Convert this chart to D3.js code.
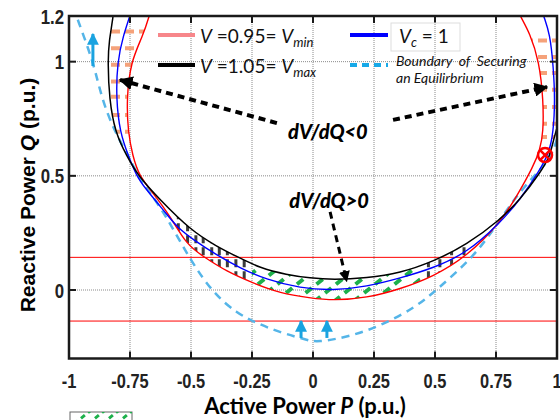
<!DOCTYPE html>
<html><head><meta charset="utf-8">
<script src="https://cdn.jsdelivr.net/npm/d3@7"></script>
<style>body{margin:0;background:#fff}svg{display:block}</style>
</head><body>
<svg id="c" width="560" height="420"></svg>
<script>
// ---------- data (P, Q in p.u.) ----------
const xTicks = [-1, -0.75, -0.5, -0.25, 0, 0.25, 0.5, 0.75, 1];
const xTickLabels = ["-1", "-0.75", "-0.5", "-0.25", "0", "0.25", "0.5", "0.75", "1"];
const yTicks = [0, 0.5, 1, 1.2];
const yTickLabels = ["0", "0.5", "1", "1.2"];
const xGrid = [-0.75, -0.5, -0.25, 0, 0.25, 0.5, 0.75];
const yGrid = [0, 0.5, 1];

// V = 1.05 = Vmax (black)
const vMaxCurve = [[-0.815,1.26],[-0.818,1.200],[-0.836,1.09],[-0.841,1.001],[-0.835,0.836],[-0.811,0.690],[-0.764,0.588],[-0.717,0.500],[-0.627,0.395],[-0.504,0.264],[-0.395,0.191],[-0.313,0.147],[-0.217,0.096],[-0.108,0.067],[-0.012,0.052],[0.083,0.045],[0.220,0.052],[0.357,0.074],[0.493,0.125],[0.630,0.198],[0.766,0.307],[0.848,0.395],[0.930,0.512],[0.971,0.585],[0.985,0.658],[1.02,0.78],[1.04,0.95],[1.04,1.26]];
// Vc = 1 (blue)
const vcCurve = [[-0.735,1.26],[-0.750,1.200],[-0.778,1.113],[-0.802,1.001],[-0.807,0.836],[-0.791,0.690],[-0.757,0.588],[-0.723,0.500],[-0.693,0.452],[-0.594,0.325],[-0.559,0.278],[-0.491,0.220],[-0.395,0.154],[-0.299,0.096],[-0.190,0.045],[-0.053,0.008],[0.083,-0.002],[0.220,0.015],[0.357,0.052],[0.493,0.096],[0.630,0.162],[0.766,0.293],[0.848,0.395],[0.930,0.526],[0.967,0.600],[0.985,0.689],[0.992,0.833],[0.985,0.979],[0.971,1.125],[0.944,1.201],[0.93,1.26]];
// V = 0.95 = Vmin (red)
const vMinCurve = [[-0.655,1.26],[-0.671,1.200],[-0.697,1.113],[-0.747,1.001],[-0.764,0.836],[-0.758,0.690],[-0.739,0.588],[-0.713,0.500],[-0.655,0.424],[-0.586,0.325],[-0.518,0.198],[-0.450,0.147],[-0.354,0.081],[-0.245,0.030],[-0.135,-0.014],[-0.012,-0.035],[0.083,-0.046],[0.220,-0.035],[0.357,0.004],[0.493,0.059],[0.630,0.147],[0.766,0.293],[0.835,0.410],[0.903,0.541],[0.930,0.614],[0.944,0.689],[0.944,0.833],[0.927,1.001],[0.889,1.125],[0.848,1.201],[0.825,1.26]];
// Boundary of securing an equilibrium (light blue dashed)
const boundaryCurve = [[-1.0,1.30],[-0.971,1.200],[-0.900,1.001],[-0.866,0.836],[-0.811,0.690],[-0.757,0.588],[-0.717,0.500],[-0.685,0.453],[-0.600,0.322],[-0.504,0.132],[-0.409,-0.014],[-0.313,-0.101],[-0.231,-0.145],[-0.135,-0.186],[-0.026,-0.218],[0.015,-0.230],[0.152,-0.204],[0.288,-0.152],[0.425,-0.072],[0.507,0.001],[0.630,0.118],[0.712,0.220],[0.821,0.395],[0.903,0.497],[0.971,0.570],[0.992,0.636],[1.03,0.75]];

const qLimits = [0.143, -0.136];
const leftHatchQ = [1.132, 1.059, 0.986, 0.913, 0.846, 0.766, 0.693];
const rightHatchQ = [1.093, 1.020, 0.950, 0.877, 0.801, 0.728, 0.670];
const lowHatchP = [-0.552, -0.514, -0.480, -0.450, -0.415, -0.384, -0.351, -0.316, -0.282, 0.473, 0.520, 0.568, 0.619];
const greenHatchP = [-0.44, -0.36, -0.28, -0.20, -0.12, -0.04, 0.04, 0.12, 0.20, 0.28, 0.36];

// ---------- drawing ----------
const svg = d3.select("#c");
const x = d3.scaleLinear().domain([-1, 1]).range([69, 557]);
const y = d3.scaleLinear().domain([-0.3, 1.2]).range([358.5, 16]);
const line = d3.line().x(d => x(d[0])).y(d => y(d[1])).curve(d3.curveBasis);

const defs = svg.append("defs");
defs.append("clipPath").attr("id", "plot").append("rect")
  .attr("x", x(-1)).attr("y", y(1.2)).attr("width", x(1) - x(-1)).attr("height", y(-0.3) - y(1.2));
const bandD = line(vMaxCurve) + `L${x(1.04)},-60L${x(-0.815)},-60Z` + line(vMinCurve) + "Z";
defs.append("clipPath").attr("id", "band").append("path").attr("d", bandD).attr("clip-rule", "evenodd");
defs.append("clipPath").attr("id", "greenRect").append("rect")
  .attr("x", x(-0.25)).attr("y", 0).attr("width", x(0.44) - x(-0.25)).attr("height", 420);
defs.append("clipPath").attr("id", "legBox").append("rect").attr("x", 70).attr("y", 412).attr("width", 62).attr("height", 20);

function marker(id, color, size) {
  defs.append("marker").attr("id", id).attr("viewBox", "0 0 10 10").attr("refX", 9).attr("refY", 5)
    .attr("markerWidth", size).attr("markerHeight", size).attr("markerUnits", "userSpaceOnUse")
    .attr("orient", "auto").append("path").attr("d", "M0,0L10,5L0,10Z").attr("fill", color);
}
marker("arrK", "#000", 14);
marker("arrKs", "#000", 11);
marker("arrB", "#1aa3e0", 12);

const plot = svg.append("g").attr("clip-path", "url(#plot)");

// grid
plot.selectAll(".gx").data(xGrid).enter().append("line")
  .attr("x1", d => x(d)).attr("x2", d => x(d)).attr("y1", y(1.2)).attr("y2", y(-0.3))
  .attr("stroke", "#8a8a8a").attr("stroke-width", 1).attr("stroke-dasharray", "1,1");
plot.selectAll(".gy").data(yGrid).enter().append("line")
  .attr("y1", d => y(d)).attr("y2", d => y(d)).attr("x1", x(-1)).attr("x2", x(1))
  .attr("stroke", "#8a8a8a").attr("stroke-width", 1).attr("stroke-dasharray", "1,1");

// Q limits
plot.selectAll(".ql").data(qLimits).enter().append("line")
  .attr("y1", d => y(d)).attr("y2", d => y(d)).attr("x1", x(-1)).attr("x2", x(1))
  .attr("stroke", "#ff0000").attr("stroke-width", 1);

// hatches between Vmin and Vmax
const band = plot.append("g").attr("clip-path", "url(#band)");
band.selectAll(".ol").data(leftHatchQ).enter().append("line")
  .attr("x1", x(-1)).attr("x2", x(-0.5)).attr("y1", d => y(d)).attr("y2", d => y(d))
  .attr("stroke", "#f5a27a").attr("stroke-width", 4).attr("stroke-dasharray", "9,5");
band.selectAll(".or").data(rightHatchQ).enter().append("line")
  .attr("x1", x(0.75)).attr("x2", x(1)).attr("y1", d => y(d)).attr("y2", d => y(d))
  .attr("stroke", "#f5a27a").attr("stroke-width", 4).attr("stroke-dasharray", "9,5");
band.selectAll(".gv").data(lowHatchP).enter().append("line")
  .attr("x1", d => x(d)).attr("x2", d => x(d)).attr("y1", y(0.45)).attr("y2", y(-0.1))
  .attr("stroke", "#3c3c3c").attr("stroke-width", 3).attr("stroke-dasharray", "8,4");
band.append("g").attr("clip-path", "url(#greenRect)")
  .selectAll(".gd").data(greenHatchP).enter().append("line")
  .attr("x1", d => x(d)).attr("y1", y(-0.09)).attr("x2", d => x(d + 0.21)).attr("y2", y(0.09))
  .attr("stroke", "#1db04b").attr("stroke-width", 4).attr("stroke-dasharray", "8,6");

// curves
plot.append("path").attr("d", line(boundaryCurve)).attr("fill", "none")
  .attr("stroke", "#55b5e8").attr("stroke-width", 2.5).attr("stroke-dasharray", "8,6");
plot.append("path").attr("d", line(vMinCurve)).attr("fill", "none").attr("stroke", "#ff0000").attr("stroke-width", 1.4);
plot.append("path").attr("d", line(vcCurve)).attr("fill", "none").attr("stroke", "#0000ff").attr("stroke-width", 1.4);
plot.append("path").attr("d", line(vMaxCurve)).attr("fill", "none").attr("stroke", "#000").attr("stroke-width", 1.5);

// frame and ticks
svg.append("rect").attr("x", x(-1)).attr("y", y(1.2)).attr("width", x(1) - x(-1)).attr("height", y(-0.3) - y(1.2))
  .attr("fill", "none").attr("stroke", "#1a1a1a").attr("stroke-width", 2.5);
const tk = svg.append("g").attr("stroke", "#1a1a1a").attr("stroke-width", 2);
xGrid.forEach(v => {
  tk.append("line").attr("x1", x(v)).attr("x2", x(v)).attr("y1", y(-0.3)).attr("y2", y(-0.3) - 7);
  tk.append("line").attr("x1", x(v)).attr("x2", x(v)).attr("y1", y(1.2)).attr("y2", y(1.2) + 7);
});
yGrid.forEach(v => {
  tk.append("line").attr("y1", y(v)).attr("y2", y(v)).attr("x1", x(-1)).attr("x2", x(-1) + 7);
  tk.append("line").attr("y1", y(v)).attr("y2", y(v)).attr("x1", x(1)).attr("x2", x(1) - 7);
});

// condensed bold tick labels (Arial-Narrow look)
const tickFont = "'Liberation Sans', Arial, sans-serif";
svg.selectAll(".xl").data(xTicks).enter().append("text")
  .attr("transform", d => `translate(${x(d)},388) scale(0.8,1)`).attr("text-anchor", "middle")
  .attr("font-family", tickFont).attr("font-weight", "bold").attr("font-size", 20.5).attr("fill", "#222")
  .text((d, i) => xTickLabels[i]);
svg.selectAll(".yl").data(yTicks).enter().append("text")
  .attr("transform", d => `translate(64,${y(d)}) scale(0.8,1)`).attr("dy", "0.36em").attr("text-anchor", "end")
  .attr("font-family", tickFont).attr("font-weight", "bold").attr("font-size", 21).attr("fill", "#222")
  .text((d, i) => yTickLabels[i]);

// axis titles
const xt = svg.append("text").attr("x", 305).attr("y", 414).attr("text-anchor", "middle")
  .attr("font-family", "Lato, sans-serif").attr("font-weight", "bold").attr("font-size", 22).attr("fill", "#000");
xt.append("tspan").text("Active Power ");
xt.append("tspan").attr("font-style", "italic").text("P");
xt.append("tspan").text(" (p.u.)");
const yt = svg.append("text").attr("transform", "translate(35,195) rotate(-90)").attr("text-anchor", "middle")
  .attr("font-family", "'Liberation Sans', Arial, sans-serif").attr("font-weight", "bold").attr("font-size", 21).attr("fill", "#000");
yt.append("tspan").text("Reactive Power ");
yt.append("tspan").attr("font-style", "italic").text("Q");
yt.append("tspan").text(" (p.u.)");

// legend
const lf = "Lato, sans-serif";
svg.append("rect").attr("x", 391).attr("y", 23).attr("width", 69).attr("height", 28).attr("fill", "none").attr("stroke", "#dddddd");
svg.append("line").attr("x1", 158).attr("x2", 195).attr("y1", 35).attr("y2", 35).attr("stroke", "#f7868a").attr("stroke-width", 4);
svg.append("line").attr("x1", 158).attr("x2", 195).attr("y1", 65).attr("y2", 65).attr("stroke", "#000").attr("stroke-width", 4);
svg.append("line").attr("x1", 350).attr("x2", 388).attr("y1", 35).attr("y2", 35).attr("stroke", "#0000ff").attr("stroke-width", 4);
svg.append("line").attr("x1", 350).attr("x2", 388).attr("y1", 65).attr("y2", 65).attr("stroke", "#17a9e8").attr("stroke-width", 4).attr("stroke-dasharray", "7,5");
function vText(xp, yp, val, sub) {
  const t = svg.append("text").attr("x", xp).attr("y", yp).attr("font-family", lf).attr("font-size", 19).attr("fill", "#111");
  t.append("tspan").attr("font-style", "italic").text("V");
  t.append("tspan").text(" =" + val + "= ");
  t.append("tspan").attr("font-style", "italic").text("V");
  t.append("tspan").attr("font-style", "italic").attr("font-size", 13).attr("dy", 4).text(sub);
}
vText(200, 43, "0.95", "min");
vText(200, 73, "1.05", "max");
const vc = svg.append("text").attr("x", 399).attr("y", 43).attr("font-family", lf).attr("font-size", 19).attr("fill", "#111");
vc.append("tspan").attr("font-style", "italic").text("V");
vc.append("tspan").attr("font-style", "italic").attr("font-size", 13).attr("dy", 4).text("c");
vc.append("tspan").attr("dy", -4).text(" = 1");
svg.append("text").attr("x", 396).attr("y", 66).attr("font-family", lf).attr("font-style", "italic").attr("font-size", 14)
  .attr("fill", "#111").attr("xml:space", "preserve").text("Boundary  of  Securing");
svg.append("text").attr("x", 396).attr("y", 83).attr("font-family", lf).attr("font-style", "italic").attr("font-size", 14)
  .attr("fill", "#111").text("an Equilirbrium");

// annotations
function dArrow(p1, q1, p2, q2, w, m) {
  svg.append("line").attr("x1", x(p1)).attr("y1", y(q1)).attr("x2", x(p2)).attr("y2", y(q2))
    .attr("stroke", "#000").attr("stroke-width", w).attr("stroke-dasharray", "7,5").attr("marker-end", `url(#${m})`);
}
dArrow(-0.148, 0.731, -0.791, 0.920, 4, "arrK");
dArrow(0.328, 0.745, 0.959, 0.889, 4, "arrK");
dArrow(0.070, 0.342, 0.138, 0.039, 3, "arrKs");
svg.append("text").attr("x", x(0.061)).attr("y", y(0.661)).attr("text-anchor", "middle")
  .attr("font-family", "Lato, sans-serif").attr("font-weight", "900").attr("font-style", "italic").attr("font-size", 20).text("dV/dQ<0");
svg.append("text").attr("x", x(0.066)).attr("y", y(0.359)).attr("text-anchor", "middle")
  .attr("font-family", "Lato, sans-serif").attr("font-weight", "900").attr("font-style", "italic").attr("font-size", 20).text("dV/dQ>0");
function bArrow(p, q1, q2) {
  svg.append("line").attr("x1", x(p)).attr("x2", x(p)).attr("y1", y(q1)).attr("y2", y(q2))
    .attr("stroke", "#1aa3e0").attr("stroke-width", 3).attr("marker-end", "url(#arrB)");
}
bArrow(-0.902, 0.981, 1.121);
bArrow(-0.049, -0.21, -0.136);
bArrow(0.057, -0.21, -0.136);
// infeasible marker
const mk = svg.append("g").attr("stroke", "#ff0000").attr("stroke-width", 2.5).attr("fill", "none");
mk.append("circle").attr("cx", x(0.951)).attr("cy", y(0.591)).attr("r", 7);
mk.append("line").attr("x1", x(0.951) - 5).attr("y1", y(0.591) - 5).attr("x2", x(0.951) + 5).attr("y2", y(0.591) + 5);
mk.append("line").attr("x1", x(0.951) + 5).attr("y1", y(0.591) - 5).attr("x2", x(0.951) - 5).attr("y2", y(0.591) + 5);

// small hatch legend box (bottom left, cropped)
svg.append("rect").attr("x", 70).attr("y", 412).attr("width", 62).attr("height", 20).attr("fill", "#fff").attr("stroke", "#666").attr("stroke-width", 1);
const lb = svg.append("g").attr("clip-path", "url(#legBox)");
[74, 88, 102, 116].forEach(v => {
  lb.append("line").attr("x1", v).attr("y1", 424).attr("x2", v + 16).attr("y2", 411)
    .attr("stroke", "#1db04b").attr("stroke-width", 3).attr("stroke-dasharray", "5,4");
});
</script>
</body></html>
